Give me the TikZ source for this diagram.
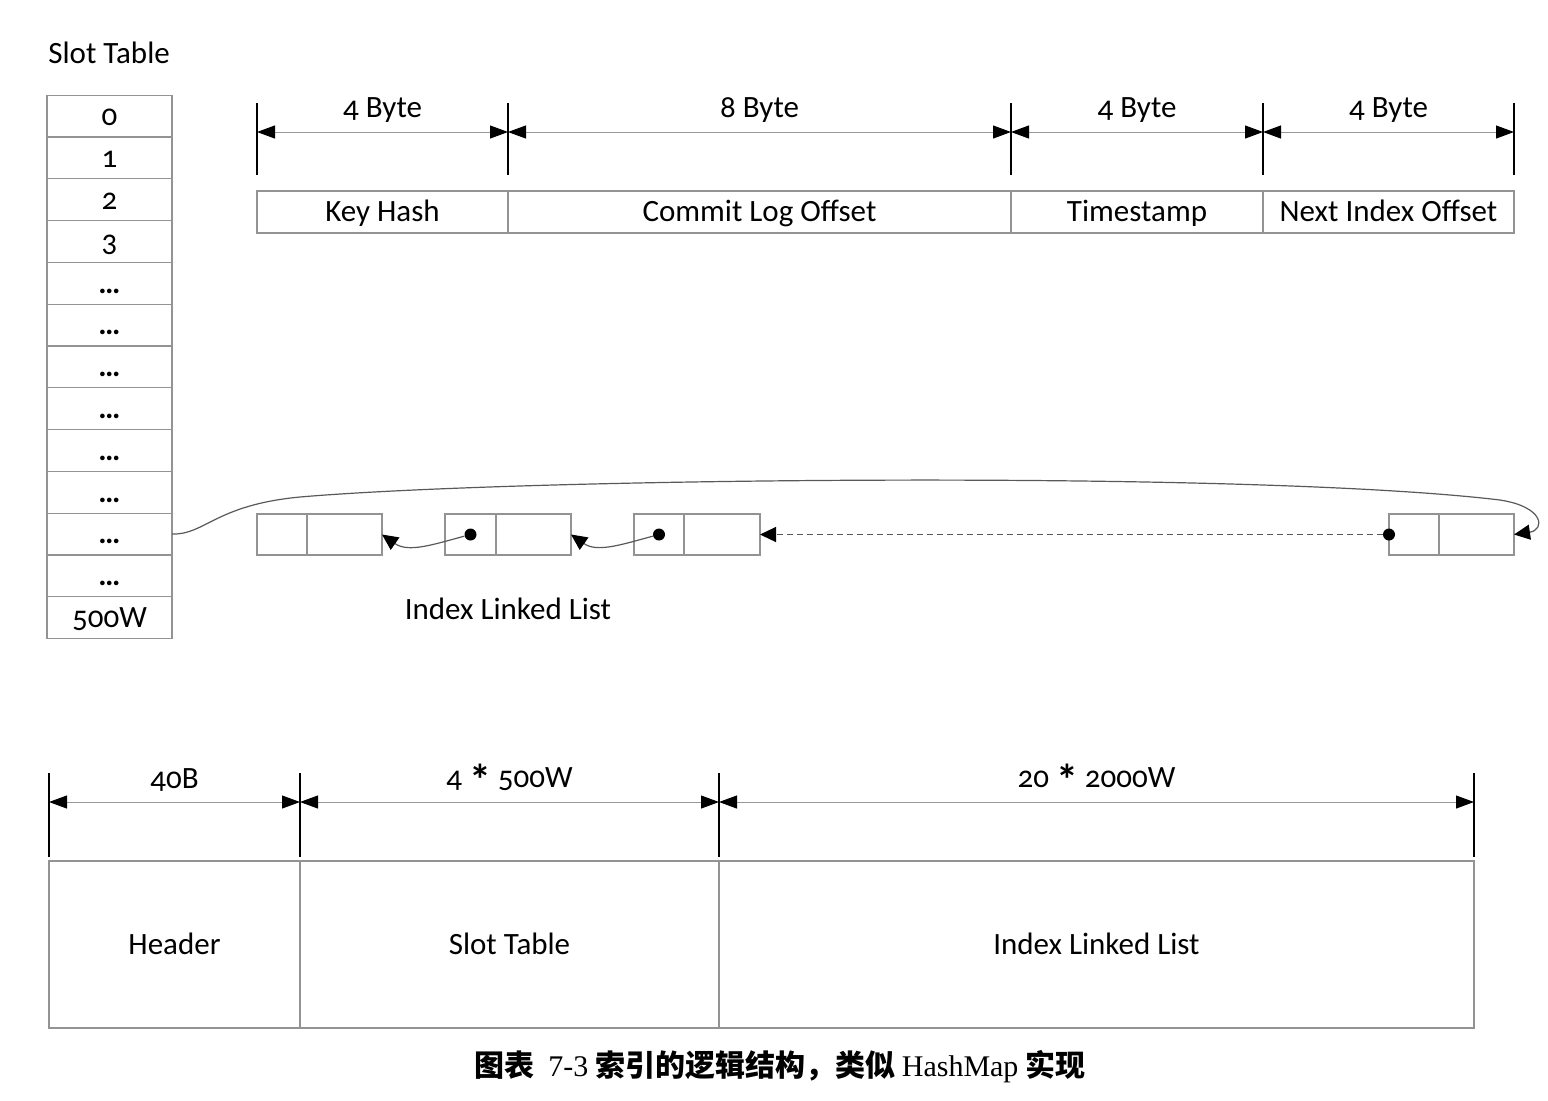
\documentclass[tikz,border=0pt]{standalone}
\usepackage{fontspec}
\setmainfont{Carlito}[Numbers=OldStyle]
\newfontfamily\cjk{Noto Sans CJK SC}
\newfontfamily\capserif{Liberation Serif}
\usetikzlibrary{arrows.meta,positioning,calc}

\tikzset{
  cellbox/.style={draw=gray!85, line width=0.6pt, outer sep=0pt, inner sep=0pt,
                  minimum height=#1, text height=11.6pt, text depth=1.7pt,
                  font=\fontsize{15.5}{17}\selectfont},
  cellbox/.default=21pt,
  tick/.style={draw=black, line width=0.6pt},
  dim/.style={draw=gray!80, line width=0.5pt,
              {Triangle[length=9pt,width=6.5pt,color=black]}-{Triangle[length=9pt,width=6.5pt,color=black]}},
  ptr/.style={draw=gray!70!black, line width=0.6pt, -{Triangle[length=8pt,width=7.5pt,color=black]}},
  dimlabel/.style={font=\fontsize{15.5}{17}\selectfont, inner sep=1pt},
  dot/.style={circle, fill=black, inner sep=0pt, minimum size=6pt}
}
\newcommand{\dd}{\textbf{\ldots}}
\newcommand{\mul}{\raisebox{-0.55ex}{\fontsize{22}{22}\selectfont\bfseries *}}

\begin{document}
\begin{tikzpicture}[x=0.5pt, y=-0.5pt]
  \useasboundingbox (0,0) rectangle (1548,1100);

  % slot table
  \node[dimlabel, anchor=west] (slot_title) at (46,53) {Slot Table};
  \foreach \t [count=\i from 0] in {0,1,2,3,\dd,\dd,\dd,\dd,\dd,\dd,\dd,\dd,500W}
    \node[cellbox=20.9pt, minimum width=62.5pt] (s\i) at (109.5,{116+\i*41.8}) {\t};

  % index entry
  \node[cellbox, minimum width=125.5pt, anchor=west] (key_hash) at (257,212) {Key Hash};
  \node[cellbox, minimum width=251.5pt, right=0pt of key_hash] (commit_offset) {Commit Log Offset};
  \node[cellbox, minimum width=126pt, right=0pt of commit_offset] (timestamp) {Timestamp};
  \node[cellbox, minimum width=125.5pt, right=0pt of timestamp] (next_offset) {Next Index Offset};

  % byte sizes
  \foreach \x [count=\i] in {257,508,1011,1263,1514}
    \draw[tick] (\x,103) coordinate (bt\i) -- (\x,175);
  \foreach \a/\b/\t in {1/2/4 Byte,2/3/8 Byte,3/4/4 Byte,4/5/4 Byte} {
    \draw[dim] ($(bt\a)+(0,29)$) -- ($(bt\b)+(0,29)$);
    \node[dimlabel] (byte\a) at ($(bt\a)!0.5!(bt\b)+(0,7)$) {\t};
  }

  % linked list
  \node[cellbox=20.5pt, minimum width=25pt, anchor=west] (n1a) at (257,534.5) {};
  \node[cellbox=20.5pt, minimum width=37.5pt, right=0pt of n1a] (n1b) {};
  \node[cellbox=20.5pt, minimum width=25.5pt, anchor=west] (n2a) at (445,534.5) {};
  \node[cellbox=20.5pt, minimum width=37.5pt, right=0pt of n2a] (n2b) {};
  \node[cellbox=20.5pt, minimum width=25pt, anchor=west] (n3a) at (634,534.5) {};
  \node[cellbox=20.5pt, minimum width=38pt, right=0pt of n3a] (n3b) {};
  \node[cellbox=20.5pt, minimum width=25pt, anchor=west] (n4a) at (1389,534.5) {};
  \node[cellbox=20.5pt, minimum width=37.5pt, right=0pt of n4a] (n4b) {};
  \node[dot] (d2) at (n2a.center) {};
  \node[dot] (d3) at (n3a.center) {};
  \node[dot] (d4) at (n4a.west) {};
  \node[dimlabel] (list_label) at (508,609) {Index Linked List};

  % pointers
  \draw[ptr] (d2) to[out=195, in=-35] (n1b.east);
  \draw[ptr] (d3) to[out=195, in=-35] (n2b.east);
  \draw[ptr, dashed, dash pattern=on 3pt off 2pt] (d4) -- (n3b.east);
  \draw[ptr] (s10.east) .. controls (205,535) and (215,505) .. (300,497)
    .. controls (520,478) and (1250,470) .. (1500,500)
    .. controls (1545,507) and (1545,530) .. (n4b.east);

  % file layout
  \node[cellbox=83.5pt, minimum width=125.5pt, anchor=west] (header) at (49,944.5) {Header};
  \node[cellbox=83.5pt, minimum width=209.5pt, right=0pt of header] (slot_table) {Slot Table};
  \node[cellbox=83.5pt, minimum width=377.5pt, right=0pt of slot_table] (index_list) {Index Linked List};

  \foreach \x [count=\i] in {49,300,719,1474}
    \draw[tick] (\x,773) coordinate (ft\i) -- (\x,857);
  \foreach \a/\b/\t in {1/2/40B,2/3/4 \mul{} 500W,3/4/20 \mul{} 2000W} {
    \draw[dim] ($(ft\a)+(0,29)$) -- ($(ft\b)+(0,29)$);
    \node[dimlabel] (size\a) at ($(ft\a)!0.5!(ft\b)+(0,7)$) {\t};
  }

  % caption
  \node[font=\fontsize{15}{17}\selectfont] (caption) at (780,1067)
    {{\cjk\bfseries 图表}\ \ {\capserif 7-3} {\cjk\bfseries 索引的逻辑结构，类似} {\capserif HashMap} {\cjk\bfseries 实现}};
\end{tikzpicture}
\end{document}
